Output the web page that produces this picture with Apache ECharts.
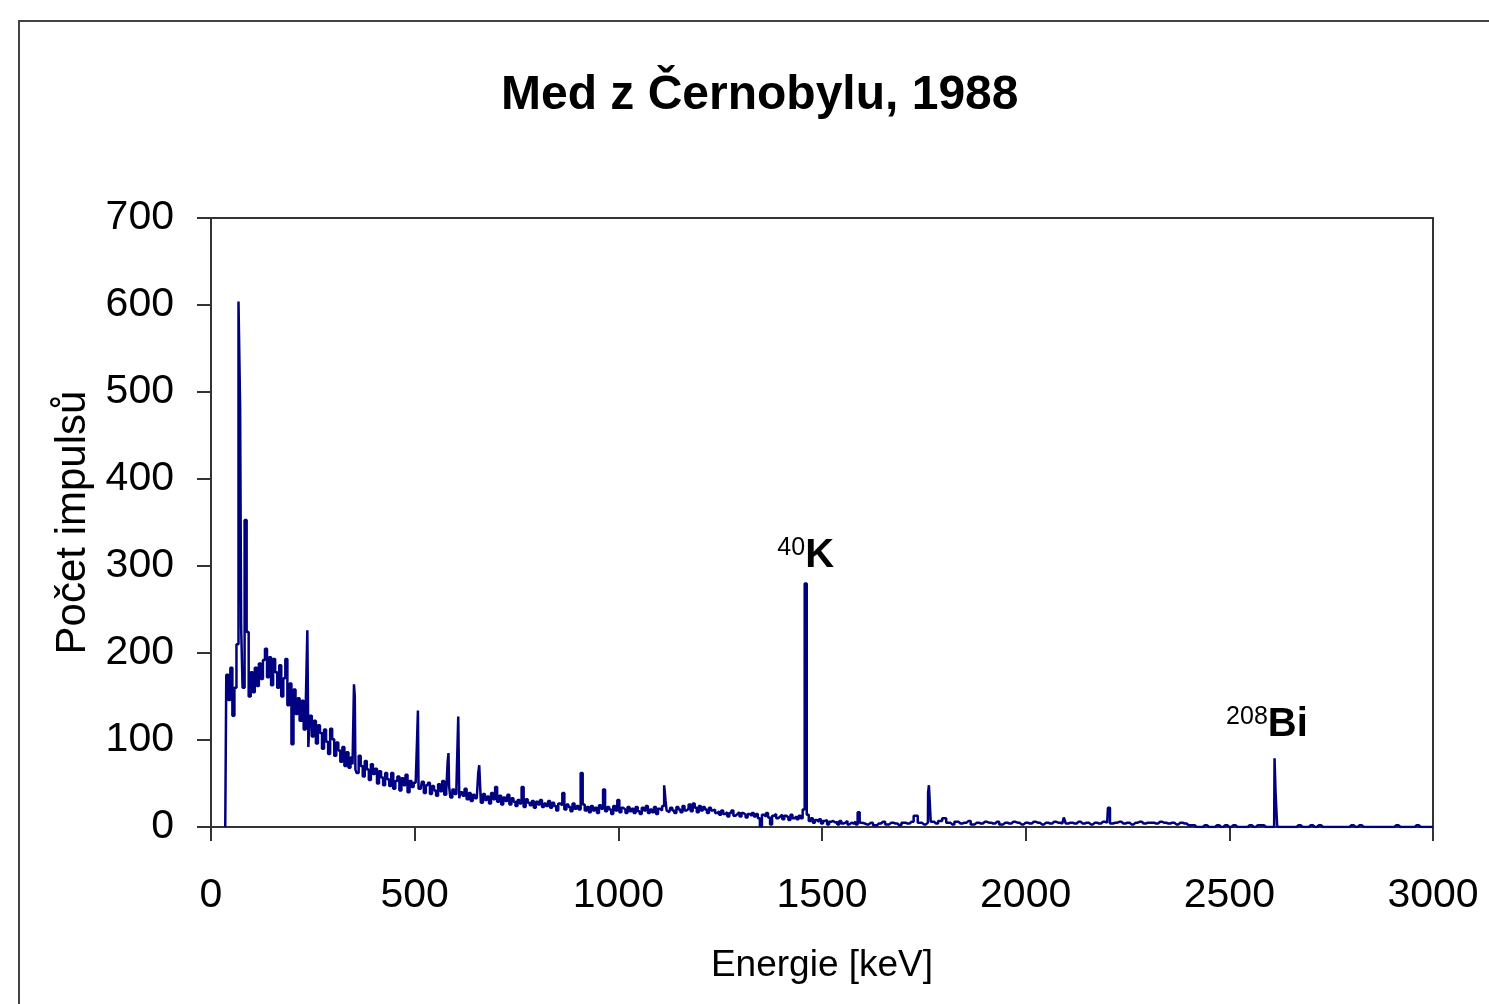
<!DOCTYPE html>
<html>
<head>
<meta charset="utf-8">
<script src="https://cdn.jsdelivr.net/npm/echarts@6/dist/echarts.min.js"></script>
<style>
  html, body { margin: 0; padding: 0; background: #fff; }
  #chart { width: 1489px; height: 1004px; }
</style>
</head>
<body>
<div id="chart"></div>
<script>
// spectrum: counts per 5 keV bin from 35 keV to 1600 keV
const lowStart = 35, lowStep = 5;
const lowCounts = [
  0, 175, 146, 183, 128, 160, 210, 604, 230, 160, 353, 224, 150, 178, 155, 183, 162, 188, 170, 192,
  205, 172, 195, 163, 193, 178, 160, 186, 150, 171, 193, 140, 165, 95, 158, 130, 148, 122, 145, 112,
  138, 92, 128, 104, 122, 96, 117, 108, 90, 112, 98, 84, 113, 101, 82, 97, 88, 75, 92, 70,
  86, 68, 80, 72, 66, 62, 82, 70, 58, 76, 66, 54, 72, 61, 67, 50, 64, 57, 48, 62,
  55, 47, 62, 44, 53, 58, 42, 56, 48, 60, 40, 53, 46, 51, 50, 44, 44, 52, 39, 48,
  51, 38, 47, 42, 36, 49, 41, 53, 37, 41, 47, 34, 43, 38, 46, 33, 40, 36, 44, 32,
  39, 30, 37, 33, 35, 71, 28, 38, 31, 35, 27, 39, 32, 46, 29, 36, 26, 34, 30, 37,
  26, 33, 29, 24, 31, 27, 46, 23, 32, 28, 25, 30, 22, 29, 26, 31, 23, 27, 24, 30,
  22, 28, 24, 19, 27, 25, 39, 20, 26, 23, 18, 27, 21, 24, 20, 62, 26, 19, 23, 17,
  24, 19, 22, 16, 25, 21, 43, 18, 23, 20, 15, 24, 19, 31, 17, 22, 20, 16, 23, 18,
  21, 16, 23, 18, 15, 22, 19, 24, 16, 20, 17, 23, 15, 21, 19, 24, 48, 19, 17, 22,
  19, 16, 23, 20, 17, 24, 19, 21, 26, 18, 27, 22, 17, 24, 19, 23, 20, 16, 22, 19,
  20, 16, 18, 14, 19, 15, 17, 12, 16, 19, 13, 15, 17, 12, 16, 14, 11, 15, 13, 16,
  12, 15, 10, 1, 14, 12, 16, 11, 3, 13, 15, 10, 12, 14, 9, 13, 11, 8, 14, 10,
  12, 9, 13, 10, 20, 280, 14, 7, 10, 5, 8, 6, 9, 4, 7, 8, 3, 6, 7, 5,
  6, 3, 7, 4, 5, 7, 3, 5, 4, 6, 3, 17, 5, 4
];

// 10 keV bins from 1610 to 2400 keV
const highStart = 1610, highStep = 10;
const highCounts = [
  3, 5, 2, 4, 6, 3, 5, 4, 2, 5,
  4, 6, 13, 5, 3, 5, 6, 4, 7, 10,
  5, 3, 6, 4, 5, 7, 3, 5, 4, 6,
  5, 4, 6, 3, 5, 4, 6, 5, 3, 5,
  4, 6, 5, 3, 5, 4, 6, 5, 4, 4,
  5, 4, 6, 4, 5, 3, 5, 4, 6, 5,
  4, 5, 6, 4, 5, 3, 5, 6, 4, 5,
  5, 4, 6, 5, 4, 5, 3, 5, 4, 2
];

// 10 keV bins from 2410 to 3000 keV
const tailStart = 2410, tailStep = 10;
const tailCounts = [
  2, 0, 0, 2, 0, 0, 2, 0, 2, 0,
  2, 0, 0, 0, 2, 0, 2, 2, 0, 0,
  0, 0, 0, 0, 0, 0, 2, 0, 0, 2,
  0, 2, 0, 0, 0, 0, 0, 0, 0, 2,
  0, 2, 0, 0, 0, 0, 0, 0, 0, 0,
  2, 0, 0, 0, 0, 2, 0, 0, 0, 0
];

// single-channel lines that fall between the bins above [keV, counts]
const narrowLines = [
  [73, 483], [238, 226], [352, 164], [354, 150], [507, 102], [509, 134],
  [582, 75], [584, 85], [609, 127], [657, 62], [1117, 30],
  [1761, 40], [1764, 48], [2097, 11], [2204, 22], [2612, 79], [2615, 40]
];

// labelled peaks
const peakMass = ['40', '208'];
const peakElement = ['K', 'Bi'];
const peakEnergy = [1460, 2612];
const peakCounts = [280, 79];

const xTicks = { min: 0, max: 3000, step: 500 };
const yTicks = { min: 0, max: 700, step: 100 };

const points = [];
lowCounts.forEach((c, i) => points.push([lowStart + i * lowStep, c]));
highCounts.forEach((c, i) => points.push([highStart + i * highStep, c]));
tailCounts.forEach((c, i) => points.push([tailStart + i * tailStep, c]));
narrowLines.forEach(p => points.push(p));
points.sort((a, b) => a[0] - b[0]);

const font = "'Liberation Sans', Arial, sans-serif";
const axisColor = '#333';

const chart = echarts.init(document.getElementById('chart'));
chart.setOption({
  animation: false,
  backgroundColor: '#fff',
  graphic: [{
    type: 'rect',
    shape: { x: 19, y: 21, width: 1500, height: 1000 },
    style: { fill: 'none', stroke: '#444', lineWidth: 2 },
    silent: true
  }],
  title: {
    text: 'Med z Černobylu, 1988',
    left: 496,
    top: 67,
    textStyle: { fontFamily: font, fontSize: 48, fontWeight: 'bold', color: '#000' }
  },
  grid: {
    left: 211, top: 218, width: 1222, height: 609,
    show: true, borderColor: axisColor, borderWidth: 2
  },
  xAxis: {
    type: 'value',
    min: xTicks.min, max: xTicks.max, interval: xTicks.step,
    z: 3,
    name: 'Energie [keV]',
    nameLocation: 'middle',
    nameGap: 120,
    nameTextStyle: { fontFamily: font, fontSize: 37, color: '#000' },
    axisLine: { show: true, lineStyle: { color: axisColor, width: 2 } },
    axisTick: { show: true, length: 14, lineStyle: { color: axisColor, width: 2 } },
    axisLabel: {
      margin: 48, fontFamily: font, fontSize: 41, color: '#000',
      formatter: v => String(v)
    },
    splitLine: { show: false }
  },
  yAxis: {
    type: 'value',
    min: yTicks.min, max: yTicks.max, interval: yTicks.step,
    z: 3,
    name: 'Počet impulsů',
    nameLocation: 'middle',
    nameGap: 116,
    nameTextStyle: { fontFamily: font, fontSize: 42, color: '#000' },
    axisLine: { show: true, lineStyle: { color: axisColor, width: 2 } },
    axisTick: { show: true, length: 14, lineStyle: { color: axisColor, width: 2 } },
    axisLabel: { margin: 37, fontFamily: font, fontSize: 41, color: '#000' },
    splitLine: { show: false }
  },
  series: [{
    type: 'line',
    data: points,
    step: 'middle',
    showSymbol: false,
    symbol: 'none',
    lineStyle: { color: '#000080', width: 2.5 },
    markPoint: {
      symbolSize: 0,
      data: peakEnergy.map((e, i) => ({
        coord: [e, peakCounts[i]],
        value: peakMass[i],
        label: {
          formatter: `{sup|${peakMass[i]}}{el|${peakElement[i]}}`,
          offset: i === 1 ? [-8, -6] : [0, 0]
        }
      })),
      label: {
        show: true,
        position: 'top',
        distance: 6,
        rich: {
          sup: { fontFamily: font, fontSize: 25, color: '#000', verticalAlign: 'top', lineHeight: 42 },
          el: { fontFamily: font, fontSize: 40, fontWeight: 'bold', color: '#000', lineHeight: 42 }
        }
      }
    }
  }]
});
</script>
</body>
</html>
